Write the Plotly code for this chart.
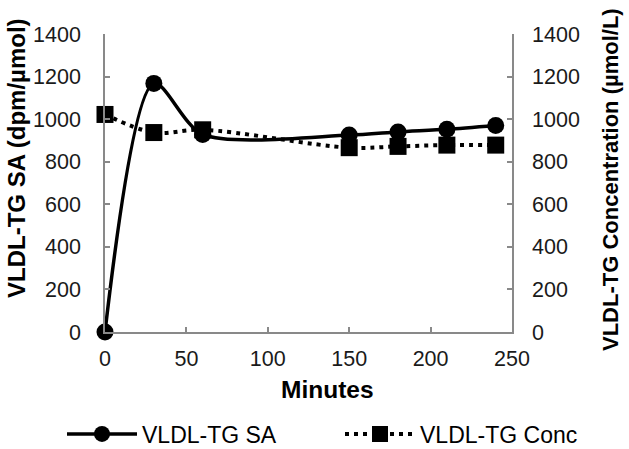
import plotly.graph_objects as go

minutes = [0, 30, 60, 150, 180, 210, 240]
sa_values = [0, 1168, 928, 925, 940, 952, 970]
conc_values = [1022, 937, 950, 866, 872, 878, 878]
x_title = "Minutes"
y_title = "VLDL-TG SA (dpm/µmol)"
y2_title = "VLDL-TG Concentration (µmol/L)"

FONT = "Liberation Sans, Arial, sans-serif"
AX = "#898989"
L, R, T, B = 105, 117, 34, 117
W, H = 629, 449
PW, PH = W - L - R, H - T - B

def px_x(p):
    return (p - L) / PW

def px_y(p):
    return (H - B - p) / PH

fig = go.Figure()
fig.add_trace(go.Scatter(
    x=minutes, y=sa_values, name="VLDL-TG SA", mode="lines+markers",
    line=dict(color="black", width=3.5, shape="spline", smoothing=0.8),
    marker=dict(symbol="circle", size=17, color="black"),
    legend="legend", cliponaxis=False,
))
fig.add_trace(go.Scatter(
    x=minutes, y=conc_values, name="VLDL-TG Conc", mode="lines+markers",
    line=dict(color="black", width=4, dash="4px,5px", shape="spline", smoothing=1),
    marker=dict(symbol="square", size=17, color="black"),
    yaxis="y2", legend="legend2", cliponaxis=False,
))

axis_common = dict(
    showgrid=False, zeroline=False, showline=True, linecolor=AX, linewidth=1.5,
    ticks="inside", ticklen=5, tickcolor=AX, tickwidth=1.5, automargin=False,
    tickfont=dict(family=FONT, size=21.5, color="#1a1a1a"),
)

legend_common = dict(
    orientation="h", yanchor="middle", xanchor="left",
    xref="container", yref="container", y=1 - 434 / H,
    font=dict(family=FONT, size=23, color="black"), itemwidth=70,
    bgcolor="rgba(0,0,0,0)",
)

fig.update_layout(
    width=W, height=H,
    margin=dict(l=L, r=R, t=T, b=B),
    plot_bgcolor="white", paper_bgcolor="white",
    font=dict(family=FONT, color="black"),
    xaxis=dict(range=[0, 250], dtick=50, ticklabelstandoff=6, **axis_common),
    yaxis=dict(range=[0, 1400], dtick=200, ticklabelstandoff=18, **axis_common),
    yaxis2=dict(range=[0, 1400], dtick=200, overlaying="y", side="right",
                ticklabelstandoff=14, **axis_common),
    legend=dict(x=62 / W, **legend_common),
    legend2=dict(x=340 / W, **legend_common),
    showlegend=True,
    annotations=[
        dict(text="<b>%s</b>" % x_title, xref="paper", yref="paper", x=px_x(327), y=px_y(389),
             xanchor="center", yanchor="middle", showarrow=False, font=dict(family=FONT, size=24.5)),
        dict(text="<b>%s</b>" % y_title, xref="paper", yref="paper", x=px_x(16), y=px_y(158),
             xanchor="center", yanchor="middle", textangle=-90, showarrow=False, font=dict(family=FONT, size=24)),
        dict(text="<b>%s</b>" % y2_title, xref="paper", yref="paper", x=px_x(610), y=px_y(180),
             xanchor="center", yanchor="middle", textangle=-90, showarrow=False, font=dict(family=FONT, size=22)),
    ],
)

fig.write_html("out.html", post_script="document.body.style.margin='0';",
               config={"displayModeBar": False})
